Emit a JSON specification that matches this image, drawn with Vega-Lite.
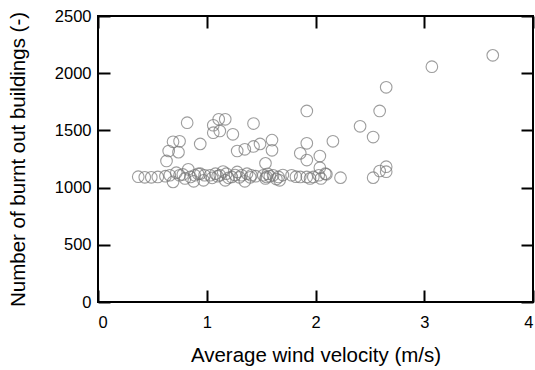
{
  "$schema": "https://vega.github.io/schema/vega-lite/v6.json",
  "width": 435,
  "height": 286,
  "autosize": {"type": "none"},
  "padding": {"left": 98, "top": 16, "right": 2, "bottom": 68},
  "config": {
    "view": {"stroke": "#000", "strokeWidth": 2},
    "font": "Liberation Sans",
    "axis": {"grid": false, "domain": false, "tickColor": "#000", "tickWidth": 2, "labelColor": "#000", "titleColor": "#000", "labelFont": "Liberation Sans", "titleFont": "Liberation Sans", "labelFontSize": 16.5, "titleFontSize": 20.5, "titleFontWeight": "normal", "format": "d"}
  },
  "layer": [
    {
      "data": {"values": [
        {"v": 3.63, "n": 2156}, {"v": 3.07, "n": 2057}, {"v": 2.65, "n": 1877}, {"v": 2.59, "n": 1670},
        {"v": 2.41, "n": 1536}, {"v": 2.53, "n": 1442}, {"v": 2.16, "n": 1405}, {"v": 2.23, "n": 1087},
        {"v": 2.53, "n": 1087}, {"v": 2.59, "n": 1145}, {"v": 2.65, "n": 1183}, {"v": 2.65, "n": 1139},
        {"v": 1.92, "n": 1670}, {"v": 1.92, "n": 1387}, {"v": 1.86, "n": 1300}, {"v": 1.92, "n": 1241},
        {"v": 2.04, "n": 1276}, {"v": 2.04, "n": 1174}, {"v": 2.10, "n": 1116},
        {"v": 1.60, "n": 1415}, {"v": 1.60, "n": 1326}, {"v": 1.54, "n": 1212},
        {"v": 0.82, "n": 1567}, {"v": 1.06, "n": 1545}, {"v": 1.11, "n": 1597}, {"v": 1.17, "n": 1597},
        {"v": 1.06, "n": 1480}, {"v": 1.12, "n": 1495}, {"v": 1.24, "n": 1466}, {"v": 1.43, "n": 1560},
        {"v": 0.94, "n": 1382}, {"v": 1.28, "n": 1320}, {"v": 1.35, "n": 1335}, {"v": 1.43, "n": 1360},
        {"v": 1.49, "n": 1382}, {"v": 0.69, "n": 1400}, {"v": 0.75, "n": 1405}, {"v": 0.65, "n": 1320},
        {"v": 0.74, "n": 1310}, {"v": 0.63, "n": 1233},
        {"v": 0.37, "n": 1095}, {"v": 0.43, "n": 1090}, {"v": 0.49, "n": 1090}, {"v": 0.55, "n": 1093},
        {"v": 0.62, "n": 1100}, {"v": 0.66, "n": 1108}, {"v": 0.69, "n": 1050}, {"v": 0.72, "n": 1130},
        {"v": 0.75, "n": 1108}, {"v": 0.78, "n": 1115}, {"v": 0.80, "n": 1080}, {"v": 0.83, "n": 1160},
        {"v": 0.85, "n": 1093}, {"v": 0.88, "n": 1055}, {"v": 0.89, "n": 1108}, {"v": 0.92, "n": 1120},
        {"v": 0.94, "n": 1122}, {"v": 0.97, "n": 1064}, {"v": 0.98, "n": 1108}, {"v": 1.03, "n": 1108},
        {"v": 1.05, "n": 1085}, {"v": 1.08, "n": 1122}, {"v": 1.10, "n": 1100}, {"v": 1.12, "n": 1108},
        {"v": 1.15, "n": 1140}, {"v": 1.17, "n": 1064}, {"v": 1.18, "n": 1122}, {"v": 1.20, "n": 1085},
        {"v": 1.23, "n": 1093}, {"v": 1.26, "n": 1110}, {"v": 1.28, "n": 1137}, {"v": 1.30, "n": 1090},
        {"v": 1.32, "n": 1108}, {"v": 1.35, "n": 1055}, {"v": 1.37, "n": 1122}, {"v": 1.40, "n": 1090},
        {"v": 1.41, "n": 1108}, {"v": 1.45, "n": 1100}, {"v": 1.52, "n": 1108}, {"v": 1.54, "n": 1080},
        {"v": 1.55, "n": 1093}, {"v": 1.56, "n": 1120}, {"v": 1.58, "n": 1100}, {"v": 1.61, "n": 1108},
        {"v": 1.64, "n": 1075}, {"v": 1.66, "n": 1093}, {"v": 1.67, "n": 1064}, {"v": 1.70, "n": 1110},
        {"v": 1.78, "n": 1108}, {"v": 1.82, "n": 1095}, {"v": 1.86, "n": 1093}, {"v": 1.92, "n": 1093},
        {"v": 1.95, "n": 1080}, {"v": 1.98, "n": 1093}, {"v": 2.03, "n": 1108}, {"v": 2.05, "n": 1080},
        {"v": 2.09, "n": 1122}
      ]},
      "mark": {"type": "point", "size": 135, "color": "#757575", "strokeWidth": 1.1},
      "encoding": {
        "x": {"field": "v", "type": "quantitative", "scale": {"domain": [0, 4], "nice": false},
              "axis": {"orient": "bottom", "offset": -12, "tickCount": 4, "tickSize": 12, "labelPadding": 12, "title": "Average wind velocity (m/s)", "titlePadding": 15}},
        "y": {"field": "n", "type": "quantitative", "scale": {"domain": [0, 2500], "nice": false},
              "axis": {"orient": "left", "offset": -12, "tickCount": 5, "tickSize": 12, "labelPadding": 7, "title": "Number of burnt out buildings (-)", "titlePadding": 26}}
      }
    },
    {
      "data": {"values": [{"v": 2, "n": 1000}]},
      "mark": {"type": "point", "opacity": 0},
      "encoding": {
        "x": {"field": "v", "type": "quantitative", "scale": {"domain": [0, 4], "nice": false},
              "axis": {"orient": "top", "offset": -12, "tickCount": 4, "tickSize": 12, "labels": false, "title": null}},
        "y": {"field": "n", "type": "quantitative", "scale": {"domain": [0, 2500], "nice": false},
              "axis": {"orient": "right", "offset": -12, "tickCount": 5, "tickSize": 12, "labels": false, "title": null}}
      }
    }
  ],
  "resolve": {"scale": {"x": "independent", "y": "independent"}}
}
